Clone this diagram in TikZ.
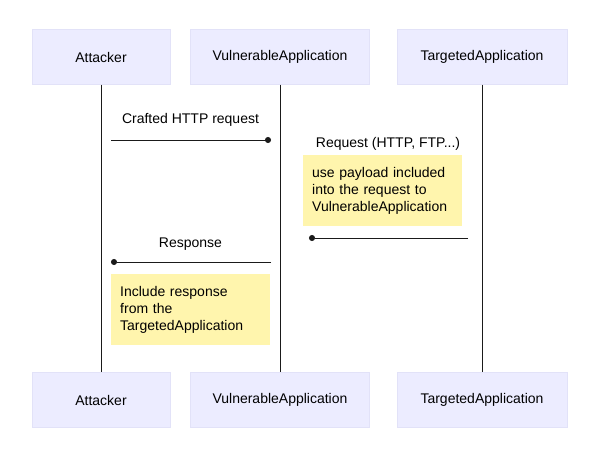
\documentclass[tikz,border=0pt]{standalone}
\usepackage{fontspec}
\setmainfont{Liberation Sans}
\usetikzlibrary{arrows.meta,positioning}
\definecolor{actorfill}{HTML}{ECECFF}
\definecolor{actorline}{HTML}{E2E2F8}
\definecolor{notefill}{HTML}{FFF5AD}
\definecolor{ink}{HTML}{1A1A1A}

\begin{document}
\begin{tikzpicture}[x=1pt,y=-1pt,
 actor/.style={fill=actorfill,draw=actorline,minimum height=55pt,font=\fontsize{14}{16}\selectfont},
 note/.style={fill=notefill,anchor=north west,minimum height=71pt,align=left,
 text width=141pt,inner sep=9pt,font=\fontsize{14}{17}\selectfont},
 msg/.style={font=\fontsize{14}{16}\selectfont},
 life/.style={draw=ink,line width=1pt},
 arr/.style={-{Circle[length=6pt]},draw=ink,line width=1pt}]
\useasboundingbox (0,0) rectangle (590,455);
% actors, top and bottom
\node[actor,minimum width=138pt] (att) at (101,57) {Attacker};
\node[actor,minimum width=179pt] (vul) at (280,57) {VulnerableApplication};
\node[actor,minimum width=170pt] (tar) at (482,57) {TargetedApplication};
\node[actor,minimum width=138pt] (attb) at (101,400) {Attacker};
\node[actor,minimum width=179pt] (vulb) at (280,400) {VulnerableApplication};
\node[actor,minimum width=170pt] (tarb) at (482,400) {TargetedApplication};
% lifelines
\draw[life] (att) -- (attb);
\draw[life] (vul) -- (vulb);
\draw[life] (tar) -- (tarb);
% messages
\coordinate (m1a) at (111,140);\coordinate (m1b) at (271,140);
\coordinate (m2a) at (468,238);\coordinate (m2b) at (309,238);
\coordinate (m3a) at (271,262);\coordinate (m3b) at (111,262);
\node[msg] (l1) at (190.5,120) {Crafted HTTP request};
\node[msg] (l2) at (388,144) {Request (HTTP, FTP...)};
\node[msg] (l3) at (190.5,244) {Response};
\draw[arr] (m1a) -- (m1b);
\draw[arr] (m2a) -- (m2b);
\draw[arr] (m3a) -- (m3b);
% notes
\node[note] (n1) at (303,155) {use payload included\\into the request to\\VulnerableApplication};
\node[note] (n2) at (111,274) {Include response\\from the\\TargetedApplication};
\end{tikzpicture}
\end{document}
